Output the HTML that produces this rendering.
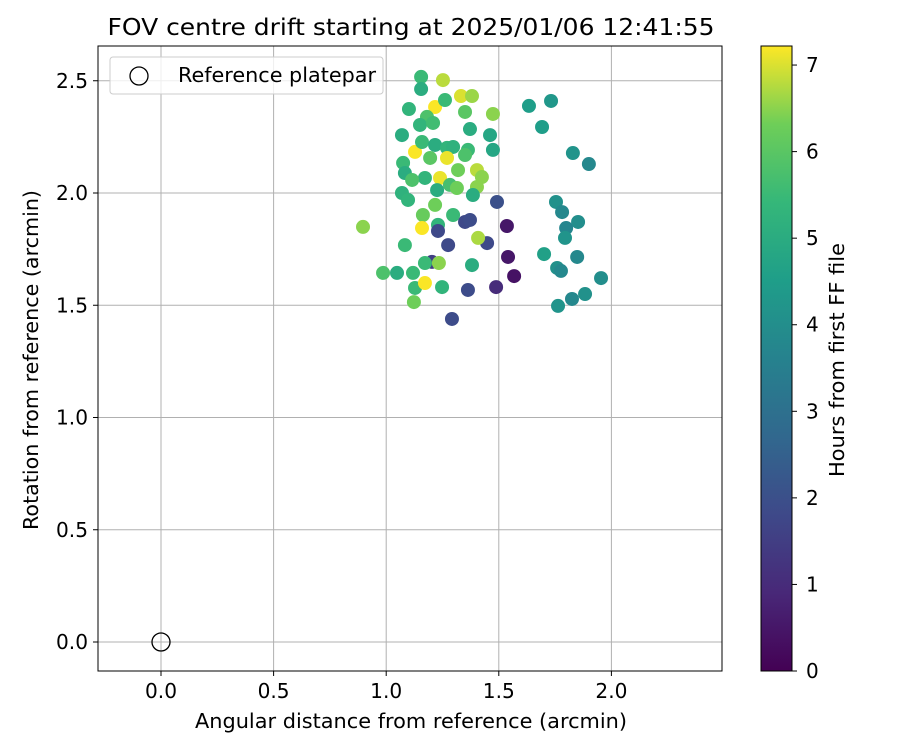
<!DOCTYPE html>
<html><head><meta charset="utf-8"><style>
body{margin:0;background:#fff;font-family:"Liberation Sans","DejaVu Sans",sans-serif}
svg text{font-family:"DejaVu Sans","Liberation Sans",sans-serif;fill:#000}
</style></head><body>
<svg id="chart" width="900" height="750" viewBox="0 0 900 750" xmlns="http://www.w3.org/2000/svg">
<defs><linearGradient id="vir" x1="0" y1="1" x2="0" y2="0">
<stop offset="0" stop-color="#440154"/><stop offset="0.125" stop-color="#482878"/><stop offset="0.25" stop-color="#3e4989"/><stop offset="0.375" stop-color="#31688e"/><stop offset="0.5" stop-color="#26828e"/><stop offset="0.625" stop-color="#1f9e89"/><stop offset="0.75" stop-color="#35b779"/><stop offset="0.875" stop-color="#6ece58"/><stop offset="1" stop-color="#fde725"/></linearGradient></defs>
<text x="411" y="35" font-size="23" text-anchor="middle" textLength="607" lengthAdjust="spacingAndGlyphs">FOV centre drift starting at 2025/01/06 12:41:55</text>
<g id="grid"></g><g id="pts"></g>
<rect x="98" y="46" width="624" height="625" fill="none" stroke="#000" stroke-width="1"/>
<g id="ticks"></g>
<text x="411" y="728" font-size="20" text-anchor="middle" textLength="432" lengthAdjust="spacingAndGlyphs">Angular distance from reference (arcmin)</text>
<text transform="translate(38,360) rotate(-90)" font-size="20" text-anchor="middle" textLength="340" lengthAdjust="spacingAndGlyphs">Rotation from reference (arcmin)</text>
<g>
<rect x="110" y="57" width="273" height="37" rx="3" fill="#fff" fill-opacity="0.8" stroke="#ccc"/>
<circle cx="139" cy="76" r="9" fill="none" stroke="#000" stroke-width="1.3"/>
<text x="178" y="82" font-size="20" textLength="198" lengthAdjust="spacingAndGlyphs">Reference platepar</text></g>
<rect x="761" y="46" width="31" height="625" fill="url(#vir)" stroke="#000"/>
<g id="cbt"></g>
<text transform="translate(844,360) rotate(-90)" font-size="20" text-anchor="middle" textLength="234" lengthAdjust="spacingAndGlyphs">Hours from first FF file</text>
</svg>
<script>
const xs=[1.634,1.732,1.692,1.829,1.900,1.754,1.781,1.852,1.799,1.794,1.701,1.848,1.759,1.776,1.954,1.883,1.825,1.763,1.492,1.536,1.541,1.568,1.488,1.448,1.155,1.155,1.252,1.101,1.217,1.332,1.381,1.261,1.350,1.474,1.181,1.150,1.208,1.372,1.070,1.461,1.474,1.128,1.159,1.217,1.270,1.297,1.363,1.350,1.270,1.195,1.075,1.083,1.403,1.319,1.172,1.115,1.239,1.425,1.283,1.314,1.403,1.070,1.097,1.226,1.385,1.217,1.163,1.297,1.350,1.372,1.230,1.159,0.897,1.230,1.408,1.275,1.083,1.203,1.172,1.234,1.381,0.986,1.048,1.119,1.128,1.172,1.248,1.363,1.123,1.292];
const ys=[2.388,2.410,2.294,2.178,2.129,1.960,1.915,1.871,1.844,1.800,1.728,1.715,1.666,1.653,1.621,1.550,1.528,1.497,1.960,1.853,1.715,1.630,1.581,1.777,2.517,2.463,2.503,2.374,2.383,2.432,2.432,2.414,2.361,2.352,2.339,2.303,2.312,2.285,2.258,2.258,2.192,2.183,2.227,2.214,2.201,2.205,2.192,2.169,2.156,2.156,2.134,2.089,2.102,2.102,2.067,2.058,2.067,2.071,2.036,2.022,2.027,2.000,1.969,2.013,1.991,1.947,1.902,1.902,1.871,1.880,1.858,1.844,1.849,1.831,1.800,1.768,1.768,1.693,1.688,1.688,1.679,1.644,1.644,1.644,1.577,1.599,1.581,1.568,1.514,1.439];
const hours=[4.5,4.3,4.5,4.2,3.8,4.1,3.8,4.0,3.7,4.2,4.6,3.8,4.1,3.8,4.0,4.1,3.8,4.2,2.0,0.5,0.5,0.4,1.0,1.8,5.5,5.0,6.8,5.3,7.2,7.0,6.6,5.5,6.0,6.5,5.8,5.3,5.6,5.0,5.0,4.8,4.8,7.2,5.5,5.0,5.3,5.2,5.5,5.8,7.1,6.0,5.5,5.0,6.8,6.3,5.3,5.8,7.1,6.5,5.7,6.3,6.5,5.2,5.3,5.0,5.0,6.3,6.2,5.5,1.8,1.9,5.3,7.2,6.5,1.8,6.7,1.8,5.5,1.5,5.5,6.5,5.0,5.8,5.0,5.5,5.5,7.2,5.3,1.9,6.3,1.9];
const xTicks=[0.0,0.5,1.0,1.5,2.0], yTicks=[0.0,0.5,1.0,1.5,2.0,2.5], cTicks=[0,1,2,3,4,5,6,7];
const HMAX=7.22;
const X=v=>161+v*225.2, Y=v=>642-v*224.5, C=h=>671-h/HMAX*625;
const NS='http://www.w3.org/2000/svg';
function mk(t,a,p){const e=document.createElementNS(NS,t);for(const k in a)e.setAttribute(k,a[k]);p.appendChild(e);return e;}
const stops=[[68,1,84],[72,40,120],[62,73,137],[49,104,142],[38,130,142],[31,158,137],[53,183,121],[110,206,88],[253,231,37]];
function vir(h){let t=Math.max(0,Math.min(1,h/HMAX))*8;let i=Math.min(7,Math.floor(t));let f=t-i;const a=stops[i],b=stops[i+1];return 'rgb('+a.map((v,k)=>Math.round(v+(b[k]-v)*f)).join(',')+')';}
const g=document.getElementById('grid'),tk=document.getElementById('ticks'),pts=document.getElementById('pts'),cb=document.getElementById('cbt');
xTicks.forEach(v=>{const x=X(v);
const l=mk('line',{x1:x,x2:x,y1:46,y2:671,stroke:'#b0b0b0','stroke-width':1},g);


mk('line',{x1:x,x2:x,y1:671,y2:676,stroke:'#000'},tk);
const t=mk('text',{x:x,y:698,'font-size':20,'text-anchor':'middle',textLength:32,lengthAdjust:'spacingAndGlyphs'},tk);t.textContent=v.toFixed(1);

});
yTicks.forEach(v=>{const y=Y(v);
const l=mk('line',{x1:98,x2:722,y1:y,y2:y,stroke:'#b0b0b0','stroke-width':1},g);


mk('line',{x1:93,x2:98,y1:y,y2:y,stroke:'#000'},tk);
const t=mk('text',{x:88,y:y+7,'font-size':20,'text-anchor':'end',textLength:32,lengthAdjust:'spacingAndGlyphs'},tk);t.textContent=v.toFixed(1);

});
cTicks.forEach(v=>{const y=C(v);
mk('line',{x1:792,x2:797,y1:y,y2:y,stroke:'#000'},cb);
const t=mk('text',{x:806,y:y+7,'font-size':20},cb);t.textContent=v;

});
const ref=mk('circle',{cx:X(0),cy:Y(0),r:9,fill:'none',stroke:'#000','stroke-width':1.3},pts);


xs.forEach((x,i)=>{const c=mk('circle',{cx:X(x),cy:Y(ys[i]),r:7,fill:vir(hours[i])},pts);

});
</script>
</body></html>
